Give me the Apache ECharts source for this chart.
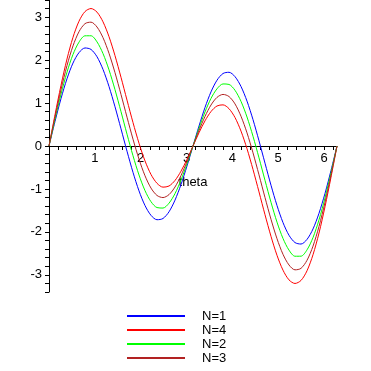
<!DOCTYPE html>
<html>
<head>
<meta charset="utf-8">
<script src="https://cdn.jsdelivr.net/npm/echarts@6/dist/echarts.min.js"></script>
<style>html,body{margin:0;padding:0;background:#fff;}#c{width:371px;height:371px;}</style>
</head>
<body>
<div id="c"></div>
<script>
var theta = [0, 0.1309, 0.2618, 0.3927, 0.5236, 0.6545, 0.7854, 0.9163, 1.0472, 1.1781, 1.3090, 1.4399, 1.5708, 1.7017, 1.8326, 1.9635, 2.0944, 2.2253, 2.3562, 2.4871, 2.6180, 2.7489, 2.8798, 3.0107, 3.1416, 3.2725, 3.4034, 3.5343, 3.6652, 3.7961, 3.9270, 4.0579, 4.1888, 4.3197, 4.4506, 4.5815, 4.7124, 4.8433, 4.9742, 5.1051, 5.2360, 5.3669, 5.4978, 5.6287, 5.7596, 5.8905, 6.0214, 6.1523, 6.2832];
var n1 = [0, 0.570, 1.104, 1.567, 1.932, 2.175, 2.283, 2.249, 2.079, 1.784, 1.386, 0.914, 0.400, -0.121, -0.614, -1.045, -1.386, -1.615, -1.717, -1.688, -1.532, -1.261, -0.897, -0.465, 0, 0.465, 0.897, 1.261, 1.532, 1.688, 1.717, 1.615, 1.386, 1.045, 0.614, 0.121, -0.400, -0.914, -1.386, -1.784, -2.079, -2.249, -2.283, -2.175, -1.932, -1.567, -1.104, -0.570, 0];
var n4 = [0, 0.726, 1.414, 2.027, 2.532, 2.906, 3.131, 3.201, 3.118, 2.892, 2.546, 2.104, 1.600, 1.069, 0.546, 0.064, -0.347, -0.663, -0.869, -0.958, -0.932, -0.802, -0.586, -0.309, 0, 0.309, 0.586, 0.802, 0.932, 0.958, 0.869, 0.663, 0.347, -0.064, -0.546, -1.069, -1.600, -2.104, -2.546, -2.892, -3.118, -3.201, -3.131, -2.906, -2.532, -2.027, -1.414, -0.726, 0];
var n2 = [0, 0.622, 1.207, 1.720, 2.132, 2.419, 2.566, 2.567, 2.425, 2.153, 1.773, 1.311, 0.800, 0.276, -0.227, -0.675, -1.039, -1.297, -1.434, -1.445, -1.332, -1.108, -0.793, -0.413, 0, 0.413, 0.793, 1.108, 1.332, 1.445, 1.434, 1.297, 1.039, 0.675, 0.227, -0.276, -0.800, -1.311, -1.773, -2.153, -2.425, -2.567, -2.566, -2.419, -2.132, -1.720, -1.207, -0.622, 0];
var n3 = [0, 0.674, 1.311, 1.873, 2.332, 2.662, 2.849, 2.884, 2.771, 2.523, 2.159, 1.707, 1.200, 0.672, 0.159, -0.306, -0.693, -0.980, -1.152, -1.201, -1.132, -0.955, -0.689, -0.361, 0, 0.361, 0.689, 0.955, 1.132, 1.201, 1.152, 0.980, 0.693, 0.306, -0.159, -0.672, -1.200, -1.707, -2.159, -2.523, -2.771, -2.884, -2.849, -2.662, -2.332, -1.873, -1.311, -0.674, 0];
var seriesNames = ['N=1', 'N=4', 'N=2', 'N=3'];
var seriesColors = ['#0000ff', '#ff0000', '#00ff00', '#b22222'];
var seriesValues = [n1, n4, n2, n3];
var xAxisName = 'theta';

function pairs(vals) { return theta.map(function (t, i) { return [t, vals[i]]; }); }
function intLabel(v) {
  var r = Math.round(v);
  return Math.abs(v - r) < 1e-6 ? String(r) : '';
}

var chart = echarts.init(document.getElementById('c'), null, { renderer: 'canvas' });
chart.setOption({
  animation: false,
  backgroundColor: '#ffffff',
  grid: { left: 49, right: 34, top: 0, height: 292 },
  xAxis: {
    type: 'value', min: 0, max: 6.2832, interval: 0.2,
    position: 'bottom', offset: -146,
    name: xAxisName, nameLocation: 'middle', nameGap: 30,
    nameTextStyle: { color: '#000', fontFamily: 'Liberation Sans', fontSize: 13 },
    axisLine: { onZero: false, lineStyle: { color: '#000', width: 1 } },
    axisTick: { show: true, length: 4, lineStyle: { color: '#000' } },
    axisLabel: {
      color: '#000', fontFamily: 'Liberation Sans', fontSize: 13, margin: 6,
      showMinLabel: false, showMaxLabel: false,
      formatter: function (v) { return v === 0 ? '' : intLabel(v); }
    },
    splitLine: { show: false }
  },
  yAxis: {
    type: 'value', min: -3.4, max: 3.4, interval: 0.2,
    axisLine: { onZero: false, lineStyle: { color: '#000', width: 1 } },
    axisTick: { show: true, length: 4, lineStyle: { color: '#000' } },
    axisLabel: {
      color: '#000', fontFamily: 'Liberation Sans', fontSize: 13, margin: 7,
      formatter: intLabel
    },
    splitLine: { show: false }
  },
  legend: {
    orient: 'vertical', left: 127, top: 309, padding: 0,
    itemWidth: 58, itemHeight: 2, itemGap: 0, icon: 'rect',
    textStyle: { color: '#000', fontFamily: 'Liberation Sans', fontSize: 13, lineHeight: 14, padding: [0, 0, 0, 12] },
    data: seriesNames
  },
  series: seriesNames.map(function (n, i) {
    return {
      name: n, type: 'line', data: pairs(seriesValues[i]), smooth: 0.3,
      showSymbol: false, symbol: 'none', color: seriesColors[i],
      lineStyle: { width: 1, color: seriesColors[i] }
    };
  })
});
</script>
</body>
</html>
